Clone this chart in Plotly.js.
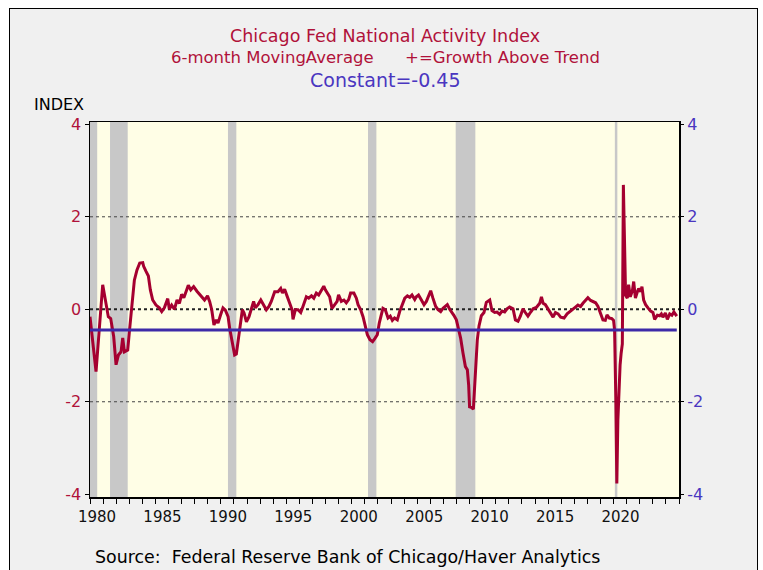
<!DOCTYPE html>
<html>
<head>
<meta charset="utf-8">
<script src="https://cdn.plot.ly/plotly-3.0.1.min.js"></script>
<style>
  html, body { margin:0; padding:0; background:#ffffff; width:763px; height:570px; overflow:hidden; }
  #frame { position:absolute; left:9px; top:8px; width:747px; height:600px; border:1px solid #000; background:#f0f0f0; }
  #chart { position:absolute; left:0; top:0; width:763px; height:570px; }
</style>
</head>
<body>
<div id="frame"></div>
<div id="chart"></div>
<script>
// ---- data ----
const years = [
1980.00,1980.46,1980.97,1981.20,1981.40,1981.58,1981.81,1981.99,1982.17,1982.37,1982.50,1982.63,1982.88,
1983.00,1983.20,1983.39,1983.59,1983.80,1984.03,1984.10,1984.28,1984.46,1984.61,1984.79,
1985.04,1985.30,1985.48,1985.68,1985.94,1986.06,1986.24,1986.45,1986.65,1986.83,
1987.00,1987.17,1987.35,1987.51,1987.70,1987.92,1988.17,1988.48,1988.75,1988.98,
1989.14,1989.30,1989.47,1989.65,1989.78,1989.98,1990.16,1990.34,1990.55,1990.67,1990.85,
1991.05,1991.18,1991.31,1991.49,1991.64,1991.77,1991.95,1992.15,1992.33,1992.50,1992.63,1992.84,
1993.05,1993.22,1993.47,1993.67,1993.85,1994.11,1994.36,1994.57,1994.70,1994.87,
1995.07,1995.26,1995.44,1995.51,1995.69,1995.89,1996.10,1996.27,1996.53,1996.71,1996.92,
1997.10,1997.29,1997.47,1997.68,1997.86,1997.98,1998.14,1998.31,1998.49,1998.69,1998.88,1998.99,
1999.20,1999.40,1999.58,1999.76,1999.91,2000.16,2000.35,2000.48,2000.68,2000.86,2000.99,
2001.19,2001.39,2001.59,2001.77,2001.95,2002.10,2002.28,2002.38,2002.56,2002.77,2002.94,
2003.10,2003.27,2003.48,2003.66,2003.84,2004.05,2004.25,2004.43,2004.60,2004.81,2004.93,
2005.10,2005.32,2005.52,2005.70,2005.88,2006.03,2006.20,2006.41,2006.59,2006.79,2006.97,
2007.15,2007.30,2007.48,2007.65,2007.80,2007.99,2008.16,2008.32,2008.50,2008.68,2008.83,2008.93,
2009.00,2009.13,2009.29,2009.44,2009.59,2009.72,2009.90,2010.10,2010.28,2010.54,2010.71,2010.92,
2011.10,2011.30,2011.48,2011.68,2011.86,2012.06,2012.32,2012.50,2012.70,2012.88,
2013.08,2013.26,2013.46,2013.67,2013.85,2014.10,2014.36,2014.49,2014.62,2014.79,
2015.00,2015.20,2015.38,2015.56,2015.76,2015.96,2016.22,2016.45,2016.64,
2017.02,2017.28,2017.48,2017.66,2017.86,2018.04,2018.25,2018.42,2018.63,2018.81,
2019.01,2019.19,2019.37,2019.50,2019.68,2019.87,2020.00,2020.08,2020.17,2020.25,
2020.33,2020.42,2020.50,2020.58,2020.67,2020.75,2020.83,2020.92,
2021.05,2021.15,2021.28,2021.44,2021.54,2021.67,2021.82,2021.92,
2022.07,2022.17,2022.30,2022.45,2022.63,2022.83,2023.01,2023.14,2023.35,2023.52,2023.65,2023.77,2023.96,
2024.11,2024.29,2024.46,2024.61,2024.75,2024.83
];
const cfnaiMA6 = [
-0.16,-1.35,0.53,0.20,-0.16,-0.20,-0.59,-1.20,-0.99,-0.92,-0.62,-0.92,-0.88,
-0.51,0.03,0.63,0.85,1.00,1.01,0.93,0.82,0.72,0.42,0.20,
0.09,0.03,-0.05,0.03,0.23,0.00,0.09,0.00,0.20,0.13,
0.32,0.25,0.39,0.52,0.42,0.49,0.39,0.29,0.20,0.29,
0.17,-0.01,-0.34,-0.23,-0.30,-0.12,0.03,-0.02,-0.16,-0.41,-0.66,
-0.99,-0.97,-0.66,-0.27,-0.01,-0.08,-0.27,-0.16,-0.01,0.17,0.03,0.10,
0.20,0.10,-0.01,0.06,0.17,0.38,0.38,0.45,0.35,0.43,
0.27,0.10,-0.01,-0.22,-0.01,-0.01,-0.07,0.06,0.27,0.24,0.29,
0.24,0.35,0.31,0.40,0.50,0.42,0.35,0.27,0.02,0.10,0.17,0.31,
0.17,0.20,0.14,0.21,0.35,0.35,0.24,0.10,-0.01,-0.16,-0.34,
-0.55,-0.66,-0.70,-0.63,-0.55,-0.30,-0.09,0.02,-0.01,-0.19,-0.15,
-0.24,-0.19,-0.23,-0.05,0.10,0.24,0.29,0.26,0.31,0.21,0.27,
0.31,0.20,0.10,0.17,0.29,0.40,0.24,0.06,-0.01,-0.05,0.02,
0.06,0.10,0.00,-0.06,-0.13,-0.23,-0.44,-0.63,-0.95,-1.24,-1.31,-1.64,
-2.11,-2.12,-2.16,-1.46,-0.66,-0.36,-0.14,-0.07,0.15,0.20,-0.03,-0.07,
-0.06,-0.11,-0.04,-0.06,0.01,0.05,0.01,-0.23,-0.26,-0.15,
0.01,-0.07,-0.15,-0.06,0.01,0.04,0.13,0.27,0.13,0.10,
0.00,-0.07,-0.17,-0.07,-0.10,-0.17,-0.19,-0.10,-0.05,
0.03,0.09,0.06,0.13,0.19,0.25,0.19,0.16,0.14,0.06,
-0.12,-0.23,-0.24,-0.12,-0.19,-0.20,-0.24,-0.45,-1.90,-3.77,
-2.40,-1.45,-1.20,-0.95,-0.75,2.69,1.05,0.30,
0.24,0.53,0.27,0.40,0.60,0.24,0.38,0.45,
0.38,0.49,0.20,0.10,0.03,-0.04,-0.07,-0.22,-0.13,-0.14,-0.10,-0.17,-0.08,
-0.22,-0.10,-0.13,-0.06,-0.14,-0.15
];
const constantValue = -0.45;
const recessionStart = [1980.00, 1981.53, 1990.54, 2001.24, 2007.94, 2020.10];
const recessionEnd   = [1980.55, 1982.88, 1991.18, 2001.88, 2009.44, 2020.29];
const yTicks = [-4, -2, 0, 2, 4];
const xLabelYears = [1980, 1985, 1990, 1995, 2000, 2005, 2010, 2015, 2020];

// ---- styling ----
const RED = '#a50030';
const TITLE_RED = '#b0123a';
const BLUE = '#4a36c0';
const FONT = 'DejaVu Sans, Verdana, sans-serif';

const shapes = [];
for (let i = 0; i < recessionStart.length; i++) {
  shapes.push({type:'rect', xref:'x', yref:'paper', x0:recessionStart[i], x1:recessionEnd[i], y0:0, y1:1,
    fillcolor:'#c8c8c8', line:{width:0}, layer:'below'});
}
[2, -2].forEach(v => shapes.push({type:'line', xref:'paper', yref:'y', x0:0, x1:1, y0:v, y1:v,
  line:{color:'#444', width:1, dash:'dot'}, layer:'below'}));
shapes.push({type:'line', xref:'paper', yref:'y', x0:0, x1:1, y0:0, y1:0,
  line:{color:'#222', width:2, dash:'dot'}, layer:'below'});

const traces = [
  {x:[years[0], years[years.length-1]], y:[constantValue, constantValue], type:'scatter', mode:'lines',
   line:{color:'#3d2aa8', width:3}, yaxis:'y2', hoverinfo:'skip'},
  {x:years, y:cfnaiMA6, type:'scatter', mode:'lines', line:{color:RED, width:3}, hoverinfo:'skip'}
];

const W = 763, H = 570, L = 90, R = 84, T = 122, B = 73;
const pw = W - L - R, ph = H - T - B;
const px = x => (x - L) / pw;
const py = y => (H - B - y) / ph;

const layout = {
  width:W, height:H,
  margin:{l:L, r:R, t:T, b:B, pad:0},
  paper_bgcolor:'rgba(0,0,0,0)',
  plot_bgcolor:'#fffee6',
  showlegend:false,
  font:{family:FONT, size:15, color:'#000'},
  xaxis:{
    range:[1980, 2025], tickmode:'array', tickvals:xLabelYears, ticktext:xLabelYears.map(String),
    ticks:'outside', ticklen:5, tickcolor:'#000', tickwidth:1, ticklabelshift:7,
    minor:{dtick:1, tick0:1980, ticks:'outside', ticklen:5, tickcolor:'#000', showgrid:false},
    showgrid:false, zeroline:false, showline:true, mirror:true, linecolor:'#000', linewidth:1.5,
    tickfont:{family:FONT, size:15, color:'#111'}
  },
  yaxis:{
    range:[-4.06, 4.05], tickmode:'array', tickvals:yTicks, ticktext:yTicks.map(String),
    ticks:'outside', ticklen:4, tickcolor:'#000', showgrid:false, zeroline:false,
    showline:true, mirror:true, linecolor:'#000', linewidth:1.5,
    tickfont:{family:FONT, size:16, color:TITLE_RED}
  },
  yaxis2:{
    range:[-4.06, 4.05], overlaying:'y', side:'right', tickmode:'array', tickvals:yTicks, ticktext:yTicks.map(String),
    ticks:'outside', ticklen:4, tickcolor:'#000', showgrid:false, zeroline:false, showline:false,
    tickfont:{family:FONT, size:16, color:BLUE}
  },
  shapes:shapes,
  annotations:[
    {text:'Chicago Fed National Activity Index', xref:'paper', yref:'paper', x:px(385), y:py(35.5),
     xanchor:'center', yanchor:'middle', showarrow:false, font:{family:FONT, size:17.5, color:TITLE_RED}},
    {text:'6-month MovingAverage\u00a0\u00a0\u00a0\u00a0\u00a0\u00a0+=Growth Above Trend', xref:'paper', yref:'paper', x:px(385), y:py(57.5),
     xanchor:'center', yanchor:'middle', showarrow:false, font:{family:FONT, size:16.5, color:TITLE_RED}},
    {text:'Constant=-0.45', xref:'paper', yref:'paper', x:px(385), y:py(80),
     xanchor:'center', yanchor:'middle', showarrow:false, font:{family:FONT, size:19, color:BLUE}},
    {text:'INDEX', xref:'paper', yref:'paper', x:px(32), y:py(104.5),
     xanchor:'left', yanchor:'middle', showarrow:false, font:{family:FONT, size:16, color:'#000'}},
    {text:'Source:\u00a0\u00a0Federal Reserve Bank of Chicago/Haver Analytics', xref:'paper', yref:'paper', x:px(93), y:py(557),
     xanchor:'left', yanchor:'middle', showarrow:false, font:{family:FONT, size:17.4, color:'#000'}}
  ]
};

Plotly.newPlot('chart', traces, layout, {staticPlot:true, displayModeBar:false});
</script>
</body>
</html>
